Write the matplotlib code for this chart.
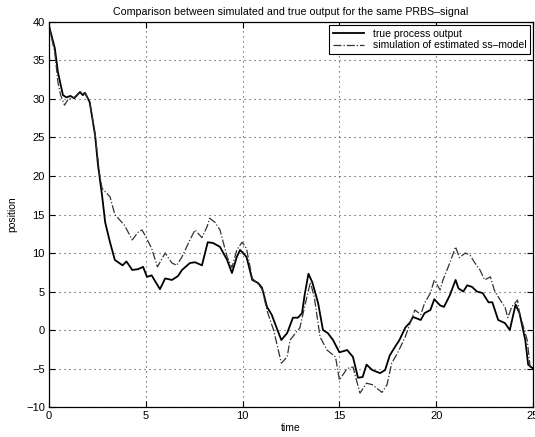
import matplotlib
matplotlib.use("Agg")
import matplotlib.pyplot as plt

# true process output
t_true = [0.0, 0.3, 0.46, 0.72, 0.9, 1.1, 1.3, 1.6, 1.75, 1.86, 2.1, 2.38, 2.53, 2.74, 2.9,
          3.15, 3.4, 3.8, 4.0, 4.3, 4.6, 4.86, 5.06, 5.3, 5.73, 6.0, 6.35, 6.66, 6.87, 7.28,
          7.54, 7.9, 8.2, 8.47, 8.83, 9.2, 9.45, 9.7, 9.87, 10.2, 10.5, 10.8, 11.0, 11.26,
          11.5, 11.8, 12.0, 12.3, 12.6, 12.86, 13.07, 13.2, 13.4, 13.6, 13.9, 14.15, 14.4,
          14.67, 15.0, 15.4, 15.7, 15.96, 16.2, 16.4, 16.7, 17.1, 17.36, 17.6, 17.87, 18.1,
          18.4, 18.65, 18.8, 19.2, 19.4, 19.7, 19.9, 20.2, 20.4, 20.7, 21.0, 21.15, 21.4,
          21.6, 21.85, 22.1, 22.4, 22.7, 22.9, 23.2, 23.55, 23.8, 24.1, 24.3, 24.6, 24.75, 25.0]
y_true = [39.5, 36.6, 33.5, 30.5, 30.2, 30.4, 30.1, 30.9, 30.5, 30.8, 29.6, 25.3, 21.4, 17.5, 14.0,
          11.4, 9.1, 8.4, 8.9, 7.8, 7.9, 8.2, 6.9, 7.1, 5.3, 6.7, 6.5, 7.0, 7.8, 8.7,
          8.8, 8.4, 11.4, 11.3, 10.8, 9.1, 7.4, 9.5, 10.4, 9.5, 6.5, 6.1, 5.5, 3.0,
          2.0, 0.0, -1.3, -0.4, 1.6, 1.6, 2.2, 4.5, 7.3, 6.2, 3.5, 0.0, -0.4,
          -1.3, -2.9, -2.6, -3.5, -6.2, -6.1, -4.5, -5.2, -5.6, -5.2, -3.3, -2.2, -1.3,
          0.3, 1.0, 1.7, 1.3, 2.2, 2.6, 4.0, 3.2, 3.0, 4.5, 6.5, 5.4, 5.0,
          5.8, 5.6, 5.0, 4.8, 3.6, 3.6, 1.3, 0.9, 0.0, 3.3, 2.2, -1.3, -4.5, -5.0]

# simulation of estimated ss-model
t_sim = [0.0, 0.3, 0.46, 0.6, 0.8, 1.0, 1.3, 1.6, 1.86, 2.1, 2.38, 2.6, 2.74, 3.15, 3.4,
         3.9, 4.3, 4.6, 4.8, 4.96, 5.3, 5.6, 6.0, 6.35, 6.6, 6.87, 7.28, 7.54, 7.9, 8.16,
         8.3, 8.57, 8.83, 9.2, 9.45, 9.7, 9.97, 10.2, 10.5, 10.8, 11.0, 11.3, 11.6, 12.0,
         12.3, 12.45, 12.96, 13.2, 13.5, 13.7, 14.0, 14.36, 14.8, 15.0, 15.4, 15.7, 16.06,
         16.4, 16.7, 17.2, 17.46, 17.7, 18.0, 18.4, 18.75, 18.9, 19.2, 19.4, 19.7, 19.9,
         20.2, 20.35, 20.7, 21.0, 21.2, 21.5, 21.75, 22.0, 22.26, 22.5, 22.8, 23.0, 23.3,
         23.55, 23.7, 23.9, 24.2, 24.3, 24.7, 24.85, 25.0]
y_sim = [39.5, 36.0, 32.2, 30.5, 29.2, 30.0, 30.2, 30.9, 30.8, 29.6, 25.5, 20.5, 18.4, 17.3, 15.0,
         13.6, 11.7, 12.7, 13.0, 12.3, 10.6, 8.2, 10.0, 8.7, 8.4, 9.5, 11.7, 13.0, 12.0, 13.4,
         14.5, 14.0, 13.0, 9.5, 8.1, 10.4, 11.4, 10.6, 6.7, 6.0, 5.3, 2.2, 0.0, -4.3,
         -3.5, -1.3, 0.3, 3.0, 6.2, 4.3, -0.9, -2.6, -3.5, -6.5, -5.0, -4.8, -8.2,
         -6.9, -7.1, -8.1, -7.1, -4.3, -3.0, -0.9, 1.6, 2.6, 2.0, 3.5, 4.8, 6.5,
         5.2, 6.5, 8.7, 10.8, 9.4, 10.0, 9.7, 8.7, 7.8, 6.5, 6.9, 5.2, 3.9,
         3.0, 1.6, 3.0, 3.9, 2.2, -1.3, -4.8, -5.0]

x_ticks = [0, 5, 10, 15, 20, 25]
y_ticks = [-10, -5, 0, 5, 10, 15, 20, 25, 30, 35, 40]

plt.rcParams['font.family'] = ['Liberation Sans', 'DejaVu Sans']

fig = plt.figure(figsize=(5.35, 4.37), dpi=100)
ax = fig.add_axes([0.0916, 0.0686, 0.9047, 0.8811])

ax.plot(t_true, y_true, color='black', linewidth=1.3, label='true process output')
ax.plot(t_sim, y_sim, color='#333333', linewidth=0.9, linestyle='-.',
        label='simulation of estimated ss\u2013model')

ax.set_xlim(0, 25)
ax.set_ylim(-10, 40)
ax.set_xticks(x_ticks)
ax.set_yticks(y_ticks)
ax.set_yticklabels([str(v).replace('-', '\u2212') for v in y_ticks])
ax.tick_params(direction='in', top=True, right=True, length=4, width=0.8,
               labelsize=8, pad=3)
ax.grid(True, linestyle=(0, (1, 3.5)), color='#444444', linewidth=0.8)
for s in ax.spines.values():
    s.set_linewidth(0.9)

ax.set_title('Comparison between simulated and true output for the same PRBS\u2013signal',
             fontsize=7.7, pad=5)
ax.set_xlabel('time', fontsize=7.5, labelpad=1)
ax.set_ylabel('position', fontsize=7.5, labelpad=6)

leg = ax.legend(loc='upper right', fontsize=7.5, frameon=True, fancybox=False,
                edgecolor='black', framealpha=1, borderaxespad=0.3,
                handlelength=3.0, labelspacing=0.15, borderpad=0.35)
leg.get_frame().set_linewidth(0.8)

fig.savefig('out.png', dpi=100)
